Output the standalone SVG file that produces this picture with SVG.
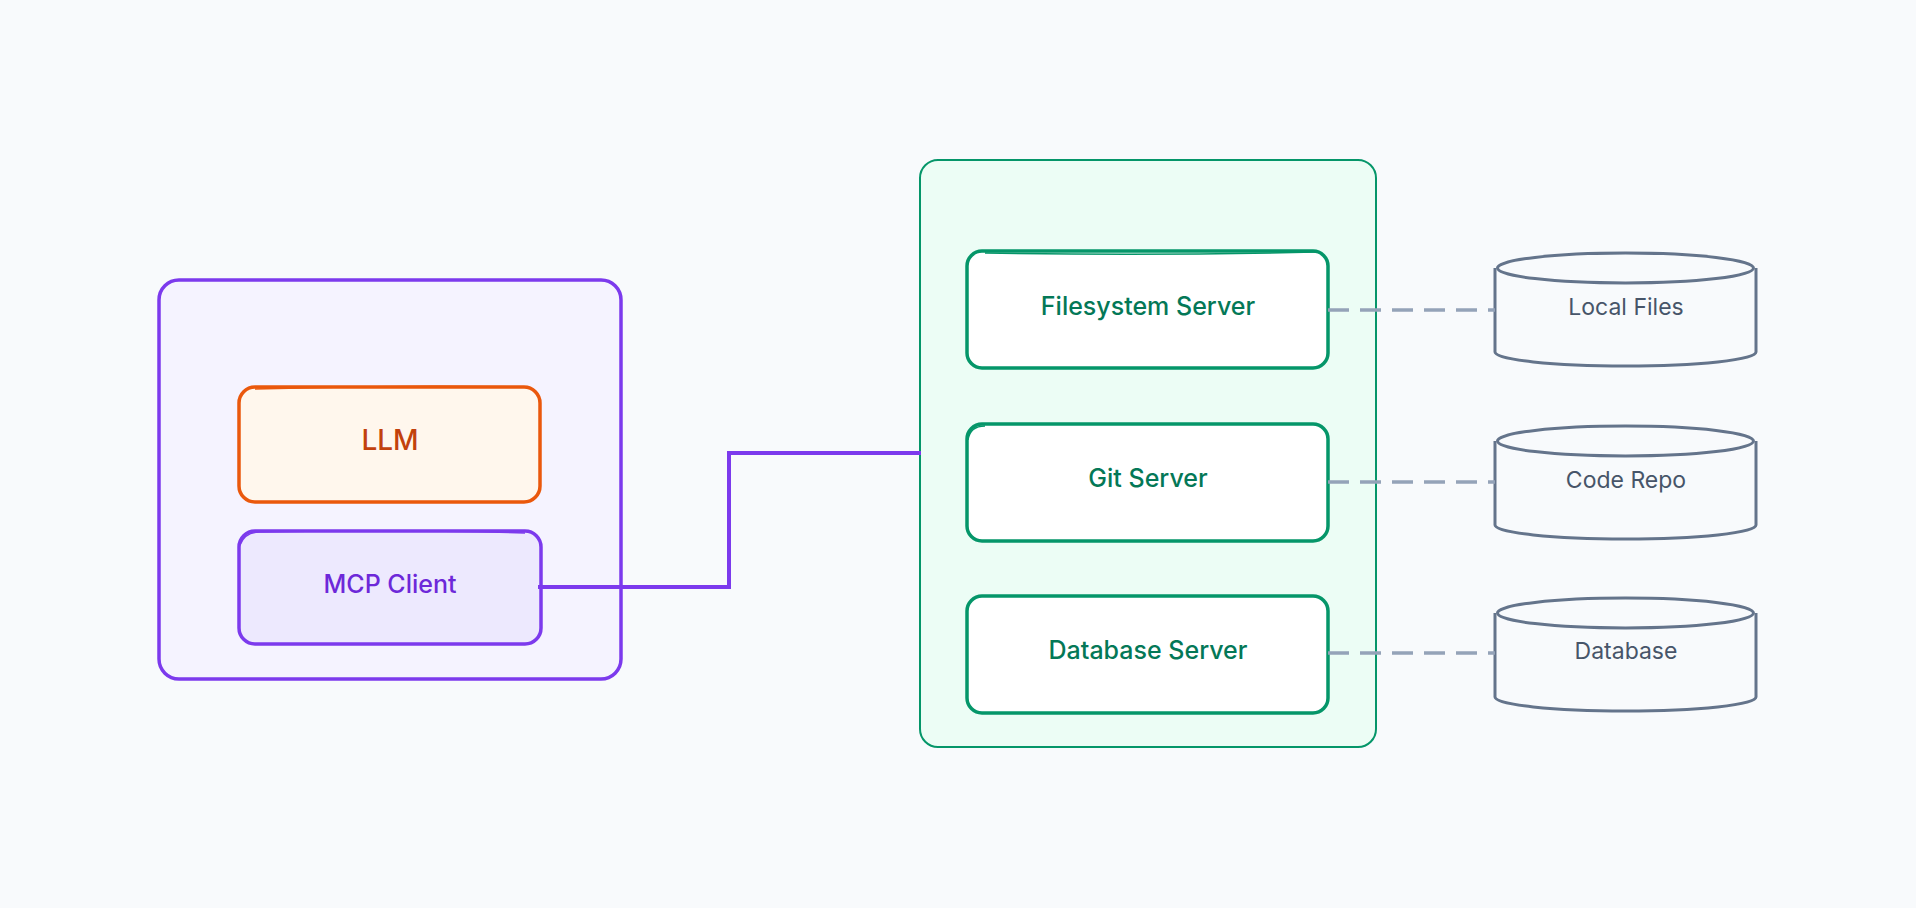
<svg xmlns="http://www.w3.org/2000/svg" width="1916" height="908" viewBox="0 0 1916 908">
<style>
text{font-family:Inter,"Noto Sans","Liberation Sans",sans-serif;text-anchor:middle}
.srv rect{fill:#ffffff;stroke:#059669;stroke-width:3.5}
.srv text{fill:#047857;font-size:25px;font-weight:500}
.cyl path,.cyl ellipse{fill:none;stroke:#64748b;stroke-width:3}
.cyl text{fill:#475569;font-size:23px}
.dash{fill:none;stroke:#94a3b8;stroke-width:3.5;stroke-dasharray:21 11}
</style>
<rect x="0" y="0" width="1916" height="908" fill="#f8fafc"/>
<g id="host">
<rect x="159" y="280" width="462" height="399" rx="20" fill="#f5f3ff" stroke="#7c3aed" stroke-width="3.5"/>
</g>
<g id="llm">
<rect x="239" y="387" width="301" height="115" rx="16" fill="#fff7ed" stroke="#ea580c" stroke-width="3.5"/>
<path d="M255,389 Q390,385 525,387" fill="none" stroke="#ea580c" stroke-width="1.5"/>
<text x="390" y="450" fill="#c2410c" font-size="28" font-weight="500">LLM</text>
</g>
<g id="mcp-client">
<rect x="239" y="531" width="302" height="113" rx="16" fill="#ede9fe" stroke="#7c3aed" stroke-width="3.5"/>
<path d="M240,545 Q245,531 262,532 Q400,529 525,533" fill="none" stroke="#7c3aed" stroke-width="1.5"/>
<text x="390" y="593" fill="#6d28d9" font-size="25" font-weight="500">MCP Client</text>
</g>
<g id="servers-group">
<rect x="920" y="160" width="456" height="587" rx="18" fill="#ecfdf5" stroke="#059669" stroke-width="2"/>
</g>
<g id="filesystem-server" class="srv">
<rect x="967" y="251" width="361" height="117" rx="15"/>
<path d="M985,253 Q1150,256 1315,252" fill="none" stroke="#059669" stroke-width="1.5"/>
<text x="1148" y="315">Filesystem Server</text>
</g>
<g id="git-server" class="srv">
<rect x="967" y="424" width="361" height="117" rx="15"/>
<path d="M968,440 Q970,426 985,426" fill="none" stroke="#059669" stroke-width="1.5"/>
<text x="1148" y="487">Git Server</text>
</g>
<g id="database-server" class="srv">
<rect x="967" y="596" width="361" height="117" rx="15"/>
<text x="1148" y="659">Database Server</text>
</g>
<g id="local-files" class="cyl">
<path d="M1495,268 V352 A130.5,14 0 0 0 1756,352 V268"/>
<ellipse cx="1625.5" cy="268" rx="128" ry="15"/>
<text x="1626" y="315">Local Files</text>
</g>
<g id="code-repo" class="cyl">
<path d="M1495,441 V525 A130.5,14 0 0 0 1756,525 V441"/>
<ellipse cx="1625.5" cy="441" rx="128" ry="15"/>
<text x="1626" y="488">Code Repo</text>
</g>
<g id="database" class="cyl">
<path d="M1495,613 V697 A130.5,14 0 0 0 1756,697 V613"/>
<ellipse cx="1625.5" cy="613" rx="128" ry="15"/>
<text x="1626" y="659">Database</text>
</g>
<g id="connectors">
<path d="M538,587 H729 V453 H921" fill="none" stroke="#7c3aed" stroke-width="4"/>
<path class="dash" d="M1328,310 H1495"/>
<path class="dash" d="M1328,482 H1495"/>
<path class="dash" d="M1328,653 H1495"/>
</g>
</svg>
